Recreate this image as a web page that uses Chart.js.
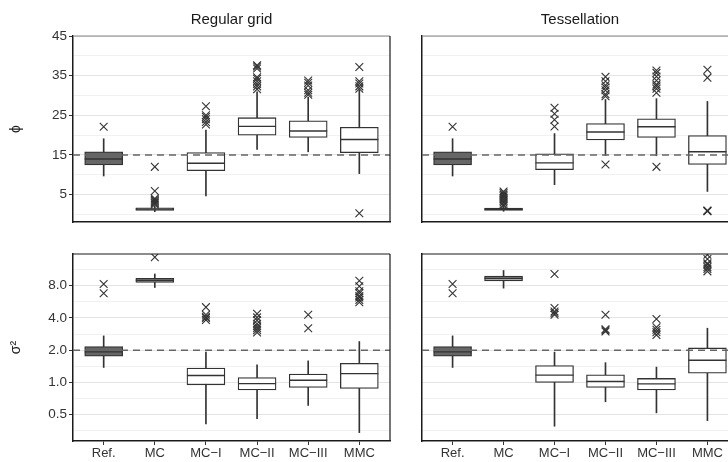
<!DOCTYPE html>
<html>
<head>
<meta charset="utf-8">
<script src="https://cdn.jsdelivr.net/npm/chart.js@4.4.0/dist/chart.umd.min.js"></script>
<style>
  html, body { margin: 0; padding: 0; background: #fff; overflow: hidden; width: 728px; height: 462px; position: relative; }
  canvas { position: absolute; }
</style>
</head>
<body>
<canvas id="phiGrid" width="400" height="240" style="left:0;top:0"></canvas>
<canvas id="phiTess" width="360" height="240" style="left:380px;top:0"></canvas>
<canvas id="sigmaGrid" width="400" height="222" style="left:0;top:240px"></canvas>
<canvas id="sigmaTess" width="360" height="222" style="left:380px;top:240px"></canvas>
<script>
// categories and axis ticks
const categories = ["Ref.", "MC", "MC\u2212I", "MC\u2212II", "MC\u2212III", "MMC"];
const phiTicks = [5, 15, 25, 35, 45];
const sigmaTicks = [0.5, 1, 2, 4, 8];
const phiTrue = 15;
const sigmaTrue = 2;

// phi, regular grid
const phiGridLow = [9.7, 0.7, 4.7, 16.4, 15.8, 10.3];
const phiGridQ1 = [12.5, 1.0, 11.05, 20.0, 19.4, 15.6];
const phiGridMed = [14.0, 1.35, 12.9, 22.2, 21.05, 18.9];
const phiGridQ3 = [15.8, 1.7, 15.6, 24.4, 23.6, 22.0];
const phiGridHigh = [19.1, 2.2, 21.3, 30.9, 29.6, 31.3];
const phiGridOut = [
  [22.1],
  [2.5, 2.8, 3.1, 3.4, 3.7, 4.0, 5.9, 12.0],
  [22.7, 23.3, 24.0, 24.6, 25.0, 27.3],
  [31.6, 32.3, 32.9, 33.6, 34.2, 34.6, 36.8, 37.3, 37.6],
  [30.2, 30.7, 31.3, 32.5, 33.2, 33.8],
  [0.3, 31.7, 32.3, 33.0, 33.6, 37.2]
];

// phi, tessellation
const phiTessLow = [9.7, 0.8, 7.5, 14.9, 14.8, 5.8];
const phiTessQ1 = [12.5, 1.0, 11.3, 18.8, 19.4, 12.6];
const phiTessMed = [14.0, 1.3, 13.0, 20.8, 22.1, 15.8];
const phiTessQ3 = [15.8, 1.6, 15.3, 22.9, 24.1, 19.9];
const phiTessHigh = [19.1, 2.0, 20.4, 29.0, 29.2, 28.5];
const phiTessOut = [
  [22.1],
  [2.2, 2.6, 3.0, 3.4, 3.8, 4.2, 4.6, 5.0, 5.4, 5.8],
  [22.2, 23.9, 25.4, 26.9],
  [12.6, 29.8, 30.3, 31.3, 32.0, 32.6, 33.6, 34.7],
  [12.0, 30.7, 31.7, 32.3, 32.8, 33.8, 34.8, 35.7, 36.3],
  [0.8, 0.9, 1.0, 34.5, 36.5]
];

// sigma^2, regular grid
const sigmaGridLow = [1.38, 7.7, 0.41, 0.46, 0.61, 0.34];
const sigmaGridQ1 = [1.76, 8.6, 0.95, 0.85, 0.90, 0.88];
const sigmaGridMed = [1.93, 9.0, 1.16, 0.975, 1.05, 1.21];
const sigmaGridQ3 = [2.16, 9.4, 1.36, 1.11, 1.20, 1.51];
const sigmaGridHigh = [2.72, 10.3, 1.92, 1.46, 1.59, 2.41];
const sigmaGridOut = [
  [6.8, 8.3],
  [14.8],
  [3.84, 3.99, 4.1, 4.28, 5.05],
  [2.93, 3.07, 3.21, 3.35, 3.53, 3.8, 4.05, 4.37],
  [3.21, 4.28],
  [5.6, 5.9, 6.2, 6.4, 6.8, 7.1, 7.9, 8.9]
];

// sigma^2, tessellation
const sigmaTessLow = [1.38, 7.6, 0.39, 0.66, 0.52, 0.44];
const sigmaTessQ1 = [1.76, 8.85, 1.0, 0.90, 0.85, 1.22];
const sigmaTessMed = [1.93, 9.4, 1.17, 1.02, 0.97, 1.61];
const sigmaTessQ3 = [2.16, 9.85, 1.44, 1.18, 1.09, 2.10];
const sigmaTessHigh = [2.72, 11.1, 1.92, 1.53, 1.39, 3.21];
const sigmaTessOut = [
  [6.8, 8.3],
  [],
  [4.28, 4.45, 4.6, 4.95, 10.3],
  [2.99, 3.07, 3.14, 4.28],
  [2.78, 2.95, 3.10, 3.28, 3.92],
  [10.9, 11.5, 12.0, 12.6, 13.0, 14.2, 15.6]
];

Chart.defaults.font.family = '"Liberation Sans", Arial, sans-serif';
Chart.defaults.font.size = 13.5;
Chart.defaults.color = "#333";
Chart.defaults.animation = false;

const ink = "#333";
const boxFills = ["#666666", "#a9a9a9", "#ffffff", "#ffffff", "#ffffff", "#ffffff"];

// frame around the panel + strip title
const panelPlugin = {
  id: "panel",
  afterDraw(chart, args, opts) {
    const { ctx, chartArea: a } = chart;
    ctx.save();
    ctx.lineWidth = 1.2;
    ctx.strokeStyle = opts.topColor || "#1a1a1a";
    ctx.beginPath();
    ctx.moveTo(a.left, a.top);
    ctx.lineTo(a.right, a.top);
    ctx.stroke();
    ctx.strokeStyle = "#1a1a1a";
    ctx.beginPath();
    ctx.moveTo(a.right, a.top);
    ctx.lineTo(a.right, a.bottom);
    ctx.stroke();
    if (opts.title) {
      ctx.fillStyle = "#1a1a1a";
      ctx.font = '15px "Liberation Sans", Arial, sans-serif';
      ctx.textAlign = "center";
      ctx.textBaseline = "middle";
      ctx.fillText(opts.title, (a.left + a.right) / 2, a.top - 16);
    }
    ctx.restore();
  }
};

function makeDatasets(low, q1, med, q3, high, out, ref) {
  const idx = categories.map((c, i) => i);
  const outPts = [];
  out.forEach((vals, i) => vals.forEach((v) => outPts.push({ x: i, y: v })));
  return [
    {
      type: "bar", grouped: false, order: 4,
      data: idx.map((i) => ({ x: i, y: [low[i], high[i]] })),
      barThickness: 1, backgroundColor: ink
    },
    {
      type: "bar", grouped: false, order: 3,
      data: idx.map((i) => ({ x: i, y: [q1[i], q3[i]] })),
      barThickness: 38, backgroundColor: boxFills,
      borderColor: ink, borderWidth: 1.3, borderSkipped: false
    },
    {
      type: "scatter", order: 2,
      data: idx.map((i) => ({ x: i, y: med[i] })),
      pointStyle: "line", pointRadius: 19, pointBorderWidth: 1.4, pointBorderColor: ink
    },
    {
      type: "scatter", order: 1,
      data: outPts,
      pointStyle: "crossRot", pointRadius: 5.5, pointBorderWidth: 1.1, pointBorderColor: ink
    },
    {
      type: "line", order: 0,
      data: [{ x: -0.6, y: ref }, { x: 5.6, y: ref }],
      borderColor: "#666", borderWidth: 1.4, borderDash: [7, 5], pointRadius: 0
    }
  ];
}

function xScale(showLabels, height) {
  return {
    type: "linear", min: -0.6, max: 5.6, offset: false,
    afterBuildTicks: (s) => { s.ticks = categories.map((c, i) => ({ value: i })); },
    afterFit: (s) => { s.height = height; s.paddingLeft = 0; s.paddingRight = 0; },
    grid: { offset: false, color: "rgba(0,0,0,0)", tickColor: ink, drawTicks: showLabels, tickLength: 4 },
    border: { display: true, color: "#1a1a1a", width: 1.5 },
    ticks: { display: showLabels, padding: 1, maxRotation: 0, autoSkip: false, font: { size: 13 },
      callback: (v) => categories[v] }
  };
}

function yScale(kind, showLabels, width, title) {
  const isLog = kind === "log";
  const major = isLog ? sigmaTicks : phiTicks;
  let all;
  if (isLog) {
    all = [major[0] / Math.SQRT2];
    major.forEach((t) => { all.push(t); all.push(t * Math.SQRT2); });
  } else {
    all = [0];
    major.forEach((t) => { all.push(t); if (t + 5 < 45) all.push(t + 5); });
  }
  const isMajor = (v) => major.some((t) => Math.abs(t - v) < 1e-9);
  return {
    type: isLog ? "logarithmic" : "linear",
    min: isLog ? 0.284 : -1.9,
    max: isLog ? 15.83 : 45,
    afterBuildTicks: (s) => { s.ticks = all.map((v) => ({ value: v })); },
    afterFit: (s) => { s.width = width; },
    grid: {
      color: (c) => (c.tick && isMajor(c.tick.value) ? "#e3e3e3" : "#f1f1f1"),
      tickColor: (c) => (c.tick && isMajor(c.tick.value) ? ink : "rgba(0,0,0,0)"),
      drawTicks: showLabels, tickLength: 4
    },
    border: { display: true, color: "#1a1a1a", width: 1.5 },
    title: { display: !!title, text: title, font: { size: 14 }, color: "#1a1a1a", padding: { top: 8, bottom: 0 } },
    ticks: {
      display: showLabels, padding: 2, autoSkip: false,
      callback: (v) => (isMajor(v) ? (isLog ? v.toFixed(1) : String(v)) : "")
    }
  };
}

function panel(id, sets, opts) {
  new Chart(document.getElementById(id), {
    type: "bar",
    data: { datasets: sets },
    options: {
      responsive: false,
      layout: { padding: opts.padding, autoPadding: false },
      plugins: {
        legend: { display: false },
        tooltip: { enabled: false },
        panel: { title: opts.title, topColor: opts.topColor }
      },
      scales: {
        x: xScale(opts.xLabels, opts.xHeight),
        y: yScale(opts.kind, opts.yLabels, opts.yWidth, opts.yTitle)
      }
    },
    plugins: [panelPlugin]
  });
}

panel("phiGrid",
  makeDatasets(phiGridLow, phiGridQ1, phiGridMed, phiGridQ3, phiGridHigh, phiGridOut, phiTrue),
  { kind: "lin", title: "Regular grid", topColor: "#888", yTitle: "\u03d5", yLabels: true, yWidth: 73,
    xLabels: false, xHeight: 18, padding: { top: 36, right: 10, left: 0, bottom: 0 } });

panel("phiTess",
  makeDatasets(phiTessLow, phiTessQ1, phiTessMed, phiTessQ3, phiTessHigh, phiTessOut, phiTrue),
  { kind: "lin", title: "Tessellation", topColor: "#888", yTitle: "", yLabels: false, yWidth: 42,
    xLabels: false, xHeight: 18, padding: { top: 36, right: 2, left: 0, bottom: 0 } });

panel("sigmaGrid",
  makeDatasets(sigmaGridLow, sigmaGridQ1, sigmaGridMed, sigmaGridQ3, sigmaGridHigh, sigmaGridOut, sigmaTrue),
  { kind: "log", title: "", yTitle: "\u03c3\u00b2", yLabels: true, yWidth: 73,
    xLabels: true, xHeight: 21, padding: { top: 14, right: 10, left: 0, bottom: 0 } });

panel("sigmaTess",
  makeDatasets(sigmaTessLow, sigmaTessQ1, sigmaTessMed, sigmaTessQ3, sigmaTessHigh, sigmaTessOut, sigmaTrue),
  { kind: "log", title: "", yTitle: "", yLabels: false, yWidth: 42,
    xLabels: true, xHeight: 21, padding: { top: 14, right: 2, left: 0, bottom: 0 } });
</script>
</body>
</html>
